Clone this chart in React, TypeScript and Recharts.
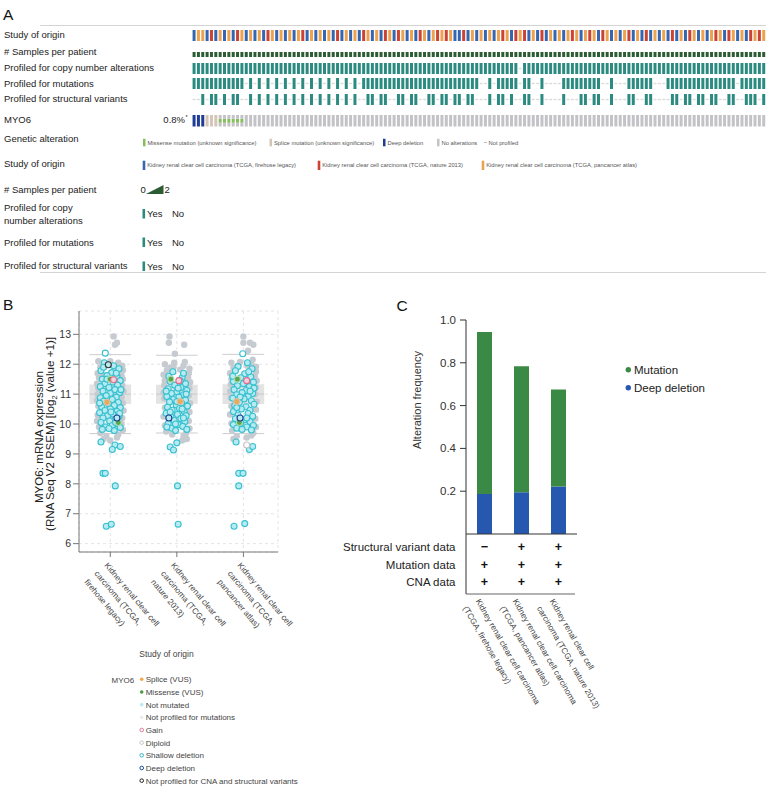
import React from "react";
import {
  BarChart,
  Bar,
  Cell,
  XAxis,
  YAxis,
  ScatterChart,
  Scatter,
  CartesianGrid,
  ReferenceArea,
  ReferenceLine,
} from "recharts";

const FONT = "'Liberation Sans', Arial, Helvetica, sans-serif";

// ---------------- A: oncoprint ----------------
const trackNames = [
  "Study of origin",
  "# Samples per patient",
  "Profiled for copy number alterations",
  "Profiled for mutations",
  "Profiled for structural variants",
];
const geneName = "MYO6";
const geneFreq = "0.8%";

// one character per patient column, 132 columns
// b = firehose legacy, r = nature 2013, o = pancancer atlas
const studyOfOrigin = [
  "boobrbobobr", "obobobrobob", "oborbobobob", "rbobobrobob", "robrobobrob", "ororobbrbob",
  "oboborobror", "bobrbobobor", "oborobrobob", "orbobrbobob", "rbobrobobor", "obrobobroro",
].join("");
const samplesPerPatient = [
  "111111111111", "111111111111", "111111111111", "111111111111", "111111111111", "111111111111",
  "111111111111", "111111111111", "111111111111", "111111111111", "111111111111",
].join("");
const profiledCna = [
  "111111111111", "111111111111", "111111111111", "111111111111", "111111111111", "111111111111",
  "111011111111", "111111111111", "111111111111", "111111111111", "111111111111",
].join("");
const profiledMut = [
  "111111111111", "010101010101", "010101010101", "010111111111", "111111111111", "111111001011",
  "111011001000", "011111111100", "100011111100", "011111111111", "111110111111",
].join("");
const profiledSv = [
  "001011010110", "010101010101", "010101010101", "010011011001", "101100110110", "110110001011",
  "010011001000", "010001101100", "100011001100", "001101101101", "100110011101",
].join("");
// d = deep deletion, s = splice, m = missense, n = no alteration
const myo6Alt = [
  "dddsssmmmmmm", "nnnnnnnnnnnn", "nnnnnnnnnnnn", "nnnnnnnnnnnn", "nnnnnnnnnnnn", "nnnnnnnnnnnn",
  "nnnnnnnnnnnn", "nnnnnnnnnnnn", "nnnnnnnnnnnn", "nnnnnnnnnnnn", "nnnnnnnnnnnn",
].join("");

const geneticLegend = [
  { label: "Missense mutation (unknown significance)", color: "#86bd5e", x: 143 },
  { label: "Splice mutation (unknown significance)", color: "#d4c5b6", x: 269.5 },
  { label: "Deep deletion", color: "#1e3c96", x: 383 },
  { label: "No alterations", color: "#c3c3c7", x: 437 },
  { label: "Not profiled", color: "", x: 484 },
];
const studyLegend = [
  { label: "Kidney renal clear cell carcinoma (TCGA, firehose legacy)", key: "b", x: 142.7 },
  { label: "Kidney renal clear cell carcinoma (TCGA, nature 2013)", key: "r", x: 317.7 },
  { label: "Kidney renal clear cell carcinoma (TCGA, pancancer atlas)", key: "o", x: 481.7 },
];

const STUDY_COLORS: Record<string, string> = { b: "#3466b1", r: "#cc4333", o: "#eca24f" };
const TEAL = "#2b8b80";
const SAMPLE_GREEN = "#2c5c33";
const NP_LINE = "#dadada";
const ALT_COLORS: Record<string, string> = { d: "#1e3c96", s: "#d4c5b6", m: "#86bd5e", n: "#c3c3c7" };

const ONCO_LEFT = 192;
const ONCO_WIDTH = 574;

type Col = { i: number; v: number | [number, number]; c: string };

const profiledCols = (s: string, color: string): Col[] =>
  s.split("").map((ch, i) => (ch === "1" ? { i, v: [0, 1], c: color } : { i, v: [0.44, 0.56], c: NP_LINE }));

function Track({ top, height, cols }: { top: number; height: number; cols: Col[] }) {
  return (
    <div style={{ position: "absolute", left: ONCO_LEFT, top }}>
      <BarChart width={ONCO_WIDTH} height={height} data={cols} margin={{ top: 0, right: 0, bottom: 0, left: 0 }} barCategoryGap="13%">
        <XAxis dataKey="i" hide />
        <YAxis hide domain={[0, 1]} />
        <Bar dataKey="v" isAnimationActive={false}>
          {cols.map((d) => (
            <Cell key={d.i} fill={d.c} />
          ))}
        </Bar>
      </BarChart>
    </div>
  );
}

function GeneTrack({ top, height }: { top: number; height: number }) {
  const data = myo6Alt.split("").map((ch, i) => {
    const base = ALT_COLORS[ch === "m" ? "n" : ch];
    return ch === "m"
      ? { i, lo: 0.33, mid: 0.34, hi: 0.33, cLo: base, cMid: ALT_COLORS.m, cHi: base }
      : { i, lo: 1, mid: 0, hi: 0, cLo: base, cMid: base, cHi: base };
  });
  return (
    <div style={{ position: "absolute", left: ONCO_LEFT, top }}>
      <BarChart width={ONCO_WIDTH} height={height} data={data} margin={{ top: 0, right: 0, bottom: 0, left: 0 }} barCategoryGap="13%">
        <XAxis dataKey="i" hide />
        <YAxis hide domain={[0, 1]} />
        <Bar dataKey="lo" stackId="g" isAnimationActive={false}>
          {data.map((d) => <Cell key={d.i} fill={d.cLo} />)}
        </Bar>
        <Bar dataKey="mid" stackId="g" isAnimationActive={false}>
          {data.map((d) => <Cell key={d.i} fill={d.cMid} />)}
        </Bar>
        <Bar dataKey="hi" stackId="g" isAnimationActive={false}>
          {data.map((d) => <Cell key={d.i} fill={d.cHi} />)}
        </Bar>
      </BarChart>
    </div>
  );
}

// ---------------- B: expression by study ----------------
const bStudyLines = [
  ["Kidney renal clear cell", "carcinoma (TCGA,", "firehose legacy)"],
  ["Kidney renal clear cell", "carcinoma (TCGA,", "nature 2013)"],
  ["Kidney renal clear cell", "carcinoma (TCGA,", "pancancer atlas)"],
];
const bPositions = [0.5, 1.5, 2.5];
const bTicksY = [6, 7, 8, 9, 10, 11, 12, 13];
const boxQ1 = [10.67, 10.68, 10.67];
const boxMedian = [11.0, 11.0, 11.0];
const boxQ3 = [11.32, 11.31, 11.33];
const whiskerLo = [9.68, 9.7, 9.68];
const whiskerHi = [12.32, 12.3, 12.33];

// [jitter, log2 expression]
const grayFirehose = [
  [-0.18, 12.1], [0.12, 12.05], [-0.05, 12.0], [0.18, 11.95], [-0.15, 11.9], [0.08, 11.88], [0.19, 11.8],
  [-0.19, 11.7], [0.17, 11.62], [-0.17, 11.55], [0.19, 11.5], [-0.2, 11.35], [0.18, 11.3], [-0.18, 11.2],
  [0.2, 11.1], [-0.19, 11.0], [0.17, 10.9], [-0.2, 10.8], [0.19, 10.7], [-0.18, 10.6], [0.2, 10.45],
  [-0.19, 10.3], [0.18, 10.2], [-0.2, 10.1], [0.17, 10.0], [-0.17, 9.9], [0.19, 9.8], [-0.15, 9.7],
  [0.12, 9.65], [-0.06, 9.6], [0.1, 9.55], [-0.1, 9.5], [0.0, 12.1], [0.14, 11.75], [-0.12, 11.65],
  [0.05, 12.93], [0.1, 12.72], [0.07, 12.65], [0.0, 9.45],
];
const cyanFirehose = [
  [-0.09, 12.05], [0.05, 11.95], [0.13, 11.85], [-0.14, 11.78], [0.02, 11.72], [-0.05, 11.62], [0.1, 11.6],
  [-0.12, 11.5], [0.15, 11.45], [0.04, 11.4], [-0.08, 11.35], [0.11, 11.3], [-0.15, 11.25], [-0.02, 11.22],
  [0.07, 11.15], [-0.11, 11.1], [0.14, 11.05], [0.0, 11.02], [-0.06, 10.95], [0.09, 10.9], [-0.15, 10.88],
  [0.03, 10.82], [-0.1, 10.76], [0.12, 10.72], [-0.03, 10.68], [0.06, 10.62], [-0.13, 10.58], [0.15, 10.55],
  [0.0, 10.5], [-0.08, 10.45], [0.1, 10.42], [-0.16, 10.38], [0.04, 10.33], [-0.04, 10.28], [0.13, 10.25],
  [-0.11, 10.2], [0.07, 10.15], [-0.01, 10.1], [-0.14, 10.05], [0.11, 10.0], [0.03, 9.95], [-0.07, 9.9],
  [0.15, 9.88], [-0.12, 9.82], [0.06, 9.78], [-0.02, 9.85], [0.09, 11.7], [-0.1, 11.9], [0.16, 11.15],
  [-0.16, 10.7], [0.01, 10.4], [0.14, 10.35], [-0.05, 11.5], [0.08, 10.05],
  [-0.14, 9.4], [0.07, 9.3], [0.03, 9.15], [0.15, 9.25], [-0.11, 8.35], [-0.075, 8.35], [0.075, 7.93],
  [-0.06, 6.58], [0.015, 6.65],
];
const grayNature = [
  [-0.18, 12.0], [0.1, 11.95], [-0.05, 11.9], [0.19, 11.85], [-0.15, 11.8], [0.05, 11.82], [0.18, 11.7],
  [-0.2, 11.65], [0.17, 11.55], [-0.18, 11.45], [0.2, 11.4], [-0.19, 11.3], [0.19, 11.2], [-0.2, 11.05],
  [0.18, 10.95], [-0.19, 10.85], [0.2, 10.7], [-0.18, 10.55], [0.19, 10.4], [-0.2, 10.25], [0.18, 10.1],
  [-0.18, 9.95], [0.19, 9.85], [-0.16, 9.75], [0.14, 9.7], [-0.04, 12.05], [0.12, 12.08], [-0.1, 11.88],
  [0.1, 9.6], [0.15, 9.5], [0.08, 9.45], [-0.07, 9.65],
  [-0.11, 12.93], [-0.12, 12.72], [0.11, 12.65], [-0.03, 12.35],
];
const cyanNature = [
  [0.08, 11.55], [-0.1, 11.42], [0.13, 11.35], [-0.03, 11.3], [0.06, 11.22], [-0.13, 11.18], [0.15, 11.12],
  [0.0, 11.08], [-0.08, 11.02], [0.1, 10.98], [-0.15, 10.92], [0.03, 10.9], [-0.05, 10.82], [0.13, 10.8],
  [-0.11, 10.74], [0.07, 10.7], [-0.01, 10.64], [0.16, 10.6], [-0.14, 10.56], [0.04, 10.52], [-0.07, 10.46],
  [0.11, 10.42], [-0.16, 10.36], [0.01, 10.32], [0.14, 10.28], [-0.09, 10.25], [0.06, 10.18], [-0.04, 10.12],
  [0.12, 10.08], [-0.13, 10.02], [0.02, 9.98], [0.09, 9.92], [-0.08, 9.86], [0.15, 9.82], [-0.02, 9.78],
  [-0.15, 9.9], [0.05, 11.45], [-0.12, 11.6], [0.1, 11.7], [-0.06, 11.75], [0.02, 11.2], [-0.1, 10.4],
  [0.08, 10.5], [-0.02, 10.0], [0.14, 11.0], [-0.16, 11.1], [0.0, 10.75], [0.1, 10.2],
  [-0.1, 9.23], [-0.05, 9.13], [0.0, 9.37], [0.01, 7.93], [0.02, 6.65],
];
const grayPancan = [
  [-0.18, 12.05], [0.12, 12.0], [-0.05, 12.08], [0.19, 11.92], [-0.15, 11.88], [0.06, 11.95], [0.19, 11.75],
  [-0.2, 11.7], [0.17, 11.6], [-0.18, 11.5], [0.2, 11.45], [-0.19, 11.32], [0.19, 11.22], [-0.2, 11.1],
  [0.18, 11.0], [-0.19, 10.88], [0.2, 10.75], [-0.18, 10.6], [0.19, 10.48], [-0.2, 10.32], [0.18, 10.18],
  [-0.18, 10.02], [0.19, 9.9], [-0.17, 9.78], [0.15, 9.7], [-0.1, 9.6], [0.05, 9.55], [-0.15, 9.5],
  [0.12, 9.62], [-0.08, 11.95], [0.14, 12.15],
  [0.0, 12.93], [0.0, 12.72], [0.1, 12.72], [0.15, 12.65], [0.07, 12.45],
];
const cyanPancan = [
  [0.06, 12.05], [-0.08, 11.92], [0.13, 11.85], [-0.12, 11.78], [0.02, 11.68], [-0.04, 11.55], [0.11, 11.58],
  [-0.15, 11.42], [0.15, 11.4], [0.0, 11.35], [-0.09, 11.28], [0.09, 11.25], [-0.14, 11.15], [0.04, 11.12],
  [-0.02, 11.05], [0.14, 11.02], [-0.1, 10.98], [0.07, 10.92], [-0.16, 10.86], [0.01, 10.84], [0.12, 10.78],
  [-0.06, 10.72], [0.16, 10.66], [-0.13, 10.62], [0.04, 10.58], [-0.03, 10.5], [0.1, 10.46], [-0.15, 10.42],
  [0.07, 10.35], [-0.08, 10.3], [0.14, 10.26], [-0.12, 10.18], [0.02, 10.14], [0.1, 10.08], [-0.04, 10.04],
  [-0.15, 9.98], [0.15, 9.95], [0.05, 9.9], [-0.1, 9.86], [0.12, 9.8], [-0.02, 9.82], [0.08, 11.75],
  [-0.16, 11.6], [0.16, 11.2], [0.05, 10.2], [-0.1, 10.55], [0.1, 11.1], [-0.05, 10.9],
  [-0.11, 9.4], [0.09, 9.15], [0.14, 9.25], [-0.07, 8.35], [-0.005, 8.35], [-0.07, 7.93], [-0.14, 6.58],
  [0.02, 6.67],
];
// [study index, jitter, value, kind]
const specialPoints: [number, number, number, string][] = [
  [0, 0.0, 11.5, "missense"], [0, 0.12, 10.05, "missense"], [0, -0.05, 10.73, "splice"], [0, 0.1, 10.2, "deep"],
  [0, -0.03, 11.98, "npCna"], [0, 0.05, 11.48, "gain"], [0, -0.075, 12.37, "npMut"],
  [1, -0.09, 11.5, "missense"], [1, 0.03, 11.45, "gain"], [1, -0.12, 10.2, "deep"], [1, 0.05, 10.75, "splice"],
  [2, -0.09, 11.5, "missense"], [2, -0.06, 10.05, "missense"], [2, 0.05, 11.45, "gain"], [2, -0.05, 10.2, "deep"],
  [2, -0.1, 10.75, "splice"], [2, -0.01, 12.35, "npMut"], [2, 0.05, 9.3, "diploid"],
];
const bLegendTitle = "Study of origin";
const bLegend = [
  { label: "Splice (VUS)", fill: "#f0a848", stroke: "none" },
  { label: "Missense (VUS)", fill: "#4f9a45", stroke: "none" },
  { label: "Not mutated", fill: "#b8ecf1", stroke: "none" },
  { label: "Not profiled for mutations", fill: "#ececec", stroke: "none" },
  { label: "Gain", fill: "#fff", stroke: "#e8799a" },
  { label: "Diploid", fill: "#fff", stroke: "#c8c8c8" },
  { label: "Shallow deletion", fill: "#fff", stroke: "#2fb8c8" },
  { label: "Deep deletion", fill: "#fff", stroke: "#1f4a9a" },
  { label: "Not profiled for CNA and structural variants", fill: "#fff", stroke: "#222" },
];

const CYAN_FILL = "#b6ebf1";
const CYAN_STROKE = "#38c0d0";
const SPECIAL_STYLE: Record<string, { fill: string; stroke: string }> = {
  missense: { fill: "#5aa64f", stroke: "#a8dcb0" },
  splice: { fill: "#e9a95e", stroke: "#d9c2a0" },
  deep: { fill: CYAN_FILL, stroke: "#1d3d8f" },
  npCna: { fill: CYAN_FILL, stroke: "#333" },
  gain: { fill: "#f6d0da", stroke: "#e56b8f" },
  npMut: { fill: "#ffffff", stroke: CYAN_STROKE },
  diploid: { fill: "#ffffff", stroke: "#c4c4c4" },
};

const toPts = (arr: number[][], k: number) => arr.map(([dx, y]) => ({ x: bPositions[k] + dx, y }));
const grayPts = [...toPts(grayFirehose, 0), ...toPts(grayNature, 1), ...toPts(grayPancan, 2)];
const cyanPts = [...toPts(cyanFirehose, 0), ...toPts(cyanNature, 1), ...toPts(cyanPancan, 2)];
const specialPts = specialPoints.map(([k, dx, y, kind]) => ({ x: bPositions[k] + dx, y, kind }));

const grayDot = (p: any) => <circle cx={p.cx} cy={p.cy} r={3.2} fill="#c6cbd1" />;
const cyanDot = (p: any) => (
  <circle cx={p.cx} cy={p.cy} r={3} fill={CYAN_FILL} stroke={CYAN_STROKE} strokeWidth={1.1} />
);
const specialDot = (p: any) => {
  const s = SPECIAL_STYLE[p.payload.kind];
  return <circle cx={p.cx} cy={p.cy} r={3} fill={s.fill} stroke={s.stroke} strokeWidth={1.1} />;
};

const BTick = (props: any) => {
  const { x, y, payload } = props;
  const k = bPositions.indexOf(payload.value);
  if (k < 0) return null;
  return (
    <g>
      {bStudyLines[k].map((line, i) => (
        <text
          key={i}
          transform={`translate(${x - 6.3 - 9.96 * i},${y + 8.5 + 8.36 * i}) rotate(50)`}
          fontSize={8.2}
          fill="#444"
          fontFamily={FONT}
        >
          {line}
        </text>
      ))}
    </g>
  );
};

// ---------------- C: alteration frequency ----------------
const cStudyLines = [
  ["Kidney renal clear cell carcinoma", "(TCGA, firehose legacy)"],
  ["Kidney renal clear cell carcinoma", "(TCGA, pancancer atlas)"],
  ["Kidney renal clear cell", "carcinoma (TCGA, nature 2013)"],
];
const cDeepDeletion = [0.187, 0.195, 0.222];
const cMutation = [0.757, 0.589, 0.453];
const cTableRows = ["Structural variant data", "Mutation data", "CNA data"];
const cStructural = ["−", "+", "+"];
const cMutData = ["+", "+", "+"];
const cCnaData = ["+", "+", "+"];
const cTicks = [0.2, 0.4, 0.6, 0.8, 1.0];
const C_GREEN = "#3a8945";
const C_BLUE = "#2658b0";

const cData = cStudyLines.map((_, i) => ({
  key: `s${i}`,
  deep: cDeepDeletion[i],
  mut: cMutation[i],
}));

const CTick = (props: any) => {
  const { x, y, payload } = props;
  const k = cData.findIndex((d) => d.key === payload.value);
  if (k < 0) return null;
  const marks = [cStructural[k], cMutData[k], cCnaData[k]];
  const rowOff = [12.7, 30.7, 48];
  return (
    <g fontFamily={FONT}>
      {marks.map((m, i) => (
        <text key={i} x={x} y={y + rowOff[i]} dy="0.35em" textAnchor="middle" fontSize={12.5} fontWeight="bold" fill="#111">
          {m}
        </text>
      ))}
      {cStudyLines[k].map((line, i) => (
        <text
          key={`l${i}`}
          transform={`translate(${x - 9.1 - 12.6 * i},${y + 67 + 7.25 * i}) rotate(60)`}
          fontSize={8.2}
          fill="#444"
        >
          {line}
        </text>
      ))}
    </g>
  );
};

const T = ({ x, y, size, children, anchor = "start", fill = "#222", transform }: any) => (
  <text x={x} y={y} fontSize={size} textAnchor={anchor} fill={fill} fontFamily={FONT} transform={transform}>
    {children}
  </text>
);

export default function App() {
  const trackBaselines = [37.5, 55, 71, 86.5, 102];
  const legendBaselines = [167.3, 193.3, 0, 245.7, 269.3];
  const yesNoTops = [209, 237.5, 261.5];
  return (
    <div style={{ position: "relative", width: 779, height: 788, background: "#fff", overflow: "hidden", fontFamily: FONT }}>
      <style>{"body{margin:0}"}</style>

      {/* A: oncoprint tracks */}
      <Track top={30} height={11} cols={studyOfOrigin.split("").map((ch, i) => ({ i, v: [0, 1], c: STUDY_COLORS[ch] }))} />
      <Track top={51.5} height={5.5} cols={samplesPerPatient.split("").map((ch, i) => ({ i, v: [0, 1], c: SAMPLE_GREEN }))} />
      <Track top={62.5} height={11} cols={profiledCols(profiledCna, TEAL)} />
      <Track top={78} height={11} cols={profiledCols(profiledMut, TEAL)} />
      <Track top={94} height={11} cols={profiledCols(profiledSv, TEAL)} />
      <GeneTrack top={115} height={11.5} />

      {/* B: expression scatter */}
      <div style={{ position: "absolute", left: 0, top: 300 }}>
        <ScatterChart width={340} height={352} margin={{ top: 11, right: 62, bottom: 0, left: 39 }}>
          <CartesianGrid strokeDasharray="3 3" stroke="#e4e4e4" />
          <XAxis
            type="number"
            dataKey="x"
            domain={[0.03, 3.02]}
            ticks={bPositions}
            interval={0}
            allowDataOverflow
            height={100}
            tickSize={5}
            tickMargin={0}
            axisLine={{ stroke: "#777" }}
            tickLine={{ stroke: "#777" }}
            tick={<BTick />}
          />
          <YAxis
            type="number"
            dataKey="y"
            domain={[5.72, 13.78]}
            ticks={bTicksY}
            allowDataOverflow
            width={40}
            tickSize={6}
            tickMargin={2}
            axisLine={{ stroke: "#777" }}
            tickLine={{ stroke: "#777" }}
            tick={{ fontSize: 10.5, fill: "#333", fontFamily: FONT }}
          />
          {bPositions.map((p, k) => (
            <ReferenceArea key={`box${k}`} x1={p - 0.313} x2={p + 0.313} y1={boxQ1[k]} y2={boxQ3[k]} fill="#e3e3e3" fillOpacity={1} stroke="none" />
          ))}
          {bPositions.map((p, k) => (
            <ReferenceLine key={`med${k}`} segment={[{ x: p - 0.313, y: boxMedian[k] }, { x: p + 0.313, y: boxMedian[k] }]} stroke="#c9c9c9" />
          ))}
          {bPositions.map((p, k) => (
            <ReferenceLine key={`wh${k}`} segment={[{ x: p - 0.313, y: whiskerHi[k] }, { x: p + 0.313, y: whiskerHi[k] }]} stroke="#cdcdcd" />
          ))}
          {bPositions.map((p, k) => (
            <ReferenceLine key={`wl${k}`} segment={[{ x: p - 0.313, y: whiskerLo[k] }, { x: p + 0.313, y: whiskerLo[k] }]} stroke="#cdcdcd" />
          ))}
          <Scatter data={grayPts} shape={grayDot} isAnimationActive={false} />
          <Scatter data={cyanPts} shape={cyanDot} isAnimationActive={false} />
          <Scatter data={specialPts} shape={specialDot} isAnimationActive={false} />
        </ScatterChart>
      </div>

      {/* C: stacked alteration frequency */}
      <div style={{ position: "absolute", left: 400, top: 300 }}>
        <BarChart width={280} height={440} data={cData} margin={{ top: 20, right: 103, bottom: 0, left: 0 }} barSize={15}>
          <XAxis
            dataKey="key"
            height={206}
            tickSize={0}
            tickMargin={0}
            tickLine={false}
            interval={0}
            axisLine={{ stroke: "#333" }}
            tick={<CTick />}
          />
          <YAxis
            domain={[0, 1]}
            ticks={cTicks}
            tickFormatter={(v: number) => v.toFixed(1)}
            width={66}
            tickSize={6}
            tickMargin={4}
            axisLine={{ stroke: "#333" }}
            tickLine={{ stroke: "#333" }}
            tick={{ fontSize: 11.5, fill: "#333", fontFamily: FONT }}
          />
          <Bar dataKey="deep" stackId="a" fill={C_BLUE} isAnimationActive={false} />
          <Bar dataKey="mut" stackId="a" fill={C_GREEN} isAnimationActive={false} />
        </BarChart>
      </div>

      {/* static text, legends and rules */}
      <svg width={779} height={788} style={{ position: "absolute", left: 0, top: 0, pointerEvents: "none" }}>
        {/* A */}
        <T x={3} y={19.5} size={15.5} fill="#111">A</T>
        <line x1={40} x2={766} y1={25.5} y2={25.5} stroke="#d4d4d4" />
        <line x1={40} x2={766} y1={272.5} y2={272.5} stroke="#d4d4d4" />
        {trackNames.map((n, i) => (
          <T key={n} x={4} y={trackBaselines[i]} size={9.5}>{n}</T>
        ))}
        <T x={4} y={122.5} size={9.5}>{geneName}</T>
        <T x={185} y={122.5} size={9.5} anchor="end">{geneFreq}</T>
        <T x={185.5} y={118.5} size={5.5}>*</T>

        <T x={4} y={141.7} size={9.5}>Genetic alteration</T>
        {geneticLegend.map((g) => (
          <g key={g.label}>
            {g.color ? (
              <rect x={g.x} y={138.8} width={2.5} height={7.5} fill={g.color} />
            ) : (
              <line x1={g.x} x2={g.x + 3} y1={142.5} y2={142.5} stroke="#bbb" />
            )}
            <T x={g.x + 4.5} y={144.5} size={5.8} fill="#555">{g.label}</T>
          </g>
        ))}

        <T x={4} y={legendBaselines[0]} size={9.5}>{trackNames[0]}</T>
        {studyLegend.map((s) => (
          <g key={s.label}>
            <rect x={s.x} y={160.7} width={2.6} height={9.3} fill={STUDY_COLORS[s.key]} />
            <T x={s.x + 4.5} y={167.3} size={5.8} fill="#555">{s.label}</T>
          </g>
        ))}

        <T x={4} y={legendBaselines[1]} size={9.5}>{trackNames[1]}</T>
        <T x={140.5} y={193.3} size={9.5}>0</T>
        <polygon points="146,194 163.5,194 163.5,185" fill={SAMPLE_GREEN} />
        <T x={164.5} y={193.3} size={9.5}>2</T>

        <T x={4} y={211} size={9.5}>Profiled for copy</T>
        <T x={4} y={223.7} size={9.5}>number alterations</T>
        <T x={4} y={legendBaselines[3]} size={9.5}>{trackNames[3]}</T>
        <T x={4} y={legendBaselines[4]} size={9.5}>{trackNames[4]}</T>
        {yesNoTops.map((t) => (
          <g key={t}>
            <rect x={142.5} y={t} width={2.6} height={9.5} fill={TEAL} />
            <T x={147} y={t + 8.2} size={9.5}>Yes</T>
            <T x={172} y={t + 8.2} size={9.5}>No</T>
          </g>
        ))}

        {/* B */}
        <T x={3} y={310} size={15.5} fill="#111">B</T>
        <T x={43} y={437} size={11.6} anchor="middle" transform="rotate(-90 43 437)">MYO6: mRNA expression</T>
        <text x={53.5} y={434} fontSize={11.6} textAnchor="middle" fill="#222" fontFamily={FONT} transform="rotate(-90 53.5 434)">
          (RNA Seq V2 RSEM) [log
          <tspan fontSize={7.5} dy={3}>2</tspan>
          <tspan dy={-3}> (value +1)]</tspan>
        </text>
        <T x={139.3} y={657} size={8.5} fill="#444">{bLegendTitle}</T>
        <T x={111.5} y={682.5} size={8} fill="#444">{geneName}</T>
        {bLegend.map((l, i) => (
          <g key={l.label}>
            <circle cx={141.7} cy={679.3 + i * 12.67} r={1.8} fill={l.fill} stroke={l.stroke} strokeWidth={1} />
            <T x={145.7} y={682.3 + i * 12.67} size={8} fill="#444">{l.label}</T>
          </g>
        ))}

        {/* C */}
        <T x={396.5} y={310.5} size={15.5} fill="#111">C</T>
        <T x={421} y={400} size={11} anchor="middle" fill="#333" transform="rotate(-90 421 400)">Alteration frequency</T>
        {cTableRows.map((r, i) => (
          <T key={r} x={455.5} y={[550.7, 568.7, 586][i]} size={11.5} anchor="end">{r}</T>
        ))}
        <line x1={466} x2={466} y1={534} y2={594} stroke="#333" />
        <line x1={466} x2={575} y1={594} y2={594} stroke="#666" />
        <circle cx={628.3} cy={369.7} r={2.7} fill={C_GREEN} />
        <T x={634} y={373.8} size={11.5}>Mutation</T>
        <circle cx={628.3} cy={387.7} r={2.7} fill={C_BLUE} />
        <T x={634} y={391.8} size={11.5}>Deep deletion</T>
      </svg>
    </div>
  );
}
